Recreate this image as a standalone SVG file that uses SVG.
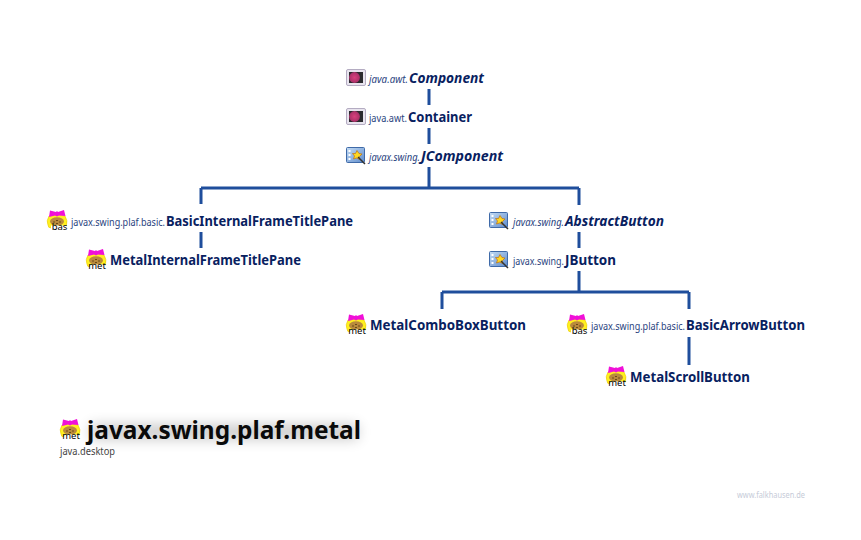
<svg xmlns="http://www.w3.org/2000/svg" width="861" height="540" viewBox="0 0 861 540">
<style>
text{font-family:"Noto Sans","Open Sans","Liberation Sans",sans-serif;fill:#0b2a6b}
.p{font-size:10px;fill:#2a4480}
.n{font-size:13.500px;font-weight:700;fill:#08215f}
.i{font-style:italic}
.ic{font-size:9.500px;fill:#000;text-anchor:middle}
.c{stroke:#1f4e9c;stroke-width:3;fill:none}
</style>
<defs>
<filter id="s" x="-10%" y="-100%" width="120%" height="300%"><feGaussianBlur stdDeviation="7"/></filter>
<linearGradient id="b" x1="0" y1="0" x2="1" y2="1"><stop offset="0" stop-color="#c4dcf4"/><stop offset="1" stop-color="#5f8ccc"/></linearGradient>
<radialGradient id="r"><stop offset="0" stop-color="#d8407c"/><stop offset="1" stop-color="#a83068"/></radialGradient>
<g id="pkg">
<path d="M-8 -4Q-11 1 -9 5Q-9 8 -6 8H6Q9 8 9.500 5Q11 1 8 -4Q0 -7 -8 -4Z" fill="#fff020" stroke="#e8c800" stroke-width="0.600"/>
<ellipse cx="0" cy="1.500" rx="7" ry="4.200" fill="#b98a3c"/>
<path d="M-1 0.500H1M-4 2H-2M2 2H4M-1 3.500H1" stroke="#6a4a18"/>
<path d="M-7 -9.500L-1 -8L0 -9L1 -8L7 -10L8.500 -4L2 -4.500L0 -3.500L-2 -4.500L-8 -3Z" fill="#f010d8"/>
<rect x="-6" y="5.500" width="15" height="6" fill="#fff"/>
</g>
<g id="awt">
<rect x="0.500" y="0.500" width="19" height="16" rx="1.500" fill="#e8e4ee" stroke="#b4acc2"/>
<rect x="3" y="3" width="14" height="11" fill="#2a2a2e"/>
<circle cx="8.500" cy="8.500" r="5.400" fill="url(#r)"/>
</g>
<g id="swing">
<rect x="0.500" y="0.500" width="18" height="15" rx="1" fill="url(#b)" stroke="#3f6aa8"/>
<rect x="2.500" y="3" width="2" height="2" fill="#fff"/><rect x="2.500" y="7" width="2" height="2" fill="#fff"/><rect x="2.500" y="11" width="2" height="2" fill="#fff"/>
<path d="M11 3.500L13 6.500L16 7L13.500 9.500L13.500 12.500L10.500 11L7.500 12L8.500 9L6.500 6.500L9.500 6.500Z" fill="#ffd820" stroke="#c07010" stroke-width="0.700"/>
<path d="M12 10L19 17" stroke="#333" stroke-width="1.500"/>
</g>
</defs>
<rect width="861" height="540" fill="#fff"/>
<g id="connectors" class="c">
<path d="M429 89V105M429 128V144M429 167V188M201 188H579M201 188V204M579 188V205M201 232V248M579 232V248M579 271V292M442 292H689M442 292V309M689 292V309M689 337V365"/>
</g>
<g id="component"><use href="#awt" x="346" y="69"/><text x="369" y="83" class="p i" textLength="39" lengthAdjust="spacingAndGlyphs">java.awt.</text><text x="409" y="83" class="n i" textLength="75" lengthAdjust="spacingAndGlyphs">Component</text></g>
<g id="container"><use href="#awt" x="346" y="108"/><text x="369" y="122" class="p" textLength="38" lengthAdjust="spacingAndGlyphs">java.awt.</text><text x="408" y="122" class="n" textLength="64" lengthAdjust="spacingAndGlyphs">Container</text></g>
<g id="jcomponent"><use href="#swing" x="346" y="147"/><text x="369" y="161" class="p i" textLength="51" lengthAdjust="spacingAndGlyphs">javax.swing.</text><text x="421" y="161" class="n i" textLength="82" lengthAdjust="spacingAndGlyphs">JComponent</text></g>
<g id="basicinternal"><use href="#pkg" x="57" y="220"/><text x="59.500" y="230" class="ic">bas</text><text x="71" y="226" class="p" textLength="94" lengthAdjust="spacingAndGlyphs">javax.swing.plaf.basic.</text><text x="166" y="226" class="n" textLength="187" lengthAdjust="spacingAndGlyphs">BasicInternalFrameTitlePane</text></g>
<g id="metalinternal"><use href="#pkg" x="96" y="259"/><text x="97" y="269" class="ic">met</text><text x="110" y="265" class="n" textLength="191" lengthAdjust="spacingAndGlyphs">MetalInternalFrameTitlePane</text></g>
<g id="abstractbutton"><use href="#swing" x="489" y="212"/><text x="513" y="226" class="p i" textLength="51" lengthAdjust="spacingAndGlyphs">javax.swing.</text><text x="565" y="226" class="n i" textLength="99" lengthAdjust="spacingAndGlyphs">AbstractButton</text></g>
<g id="jbutton"><use href="#swing" x="489" y="251"/><text x="513" y="265" class="p" textLength="51" lengthAdjust="spacingAndGlyphs">javax.swing.</text><text x="565" y="265" class="n" textLength="51" lengthAdjust="spacingAndGlyphs">JButton</text></g>
<g id="metalcombo"><use href="#pkg" x="356" y="324"/><text x="357" y="334" class="ic">met</text><text x="370" y="330" class="n" textLength="156" lengthAdjust="spacingAndGlyphs">MetalComboBoxButton</text></g>
<g id="basicarrow"><use href="#pkg" x="577" y="324"/><text x="579.500" y="334" class="ic">bas</text><text x="591" y="330" class="p" textLength="94" lengthAdjust="spacingAndGlyphs">javax.swing.plaf.basic.</text><text x="686" y="330" class="n" textLength="119" lengthAdjust="spacingAndGlyphs">BasicArrowButton</text></g>
<g id="metalscroll"><use href="#pkg" x="616" y="376"/><text x="617" y="386" class="ic">met</text><text x="630" y="382" class="n" textLength="120" lengthAdjust="spacingAndGlyphs">MetalScrollButton</text></g>
<g id="title">
<rect x="90" y="425" width="268" height="14" fill="#000" opacity=".22" filter="url(#s)"/>
<use href="#pkg" x="70" y="429"/><text x="71" y="439" class="ic">met</text>
<text x="87" y="439" style="font-size:25px;font-weight:700;fill:#0a0a0a" textLength="274" lengthAdjust="spacingAndGlyphs">javax.swing.plaf.metal</text>
<text x="60" y="455" style="font-size:10px;fill:#444" textLength="55" lengthAdjust="spacingAndGlyphs">java.desktop</text>
</g>
<text x="737" y="498" style="font-size:8px;fill:#c6cbd8" textLength="68" lengthAdjust="spacingAndGlyphs">www.falkhausen.de</text>
</svg>
